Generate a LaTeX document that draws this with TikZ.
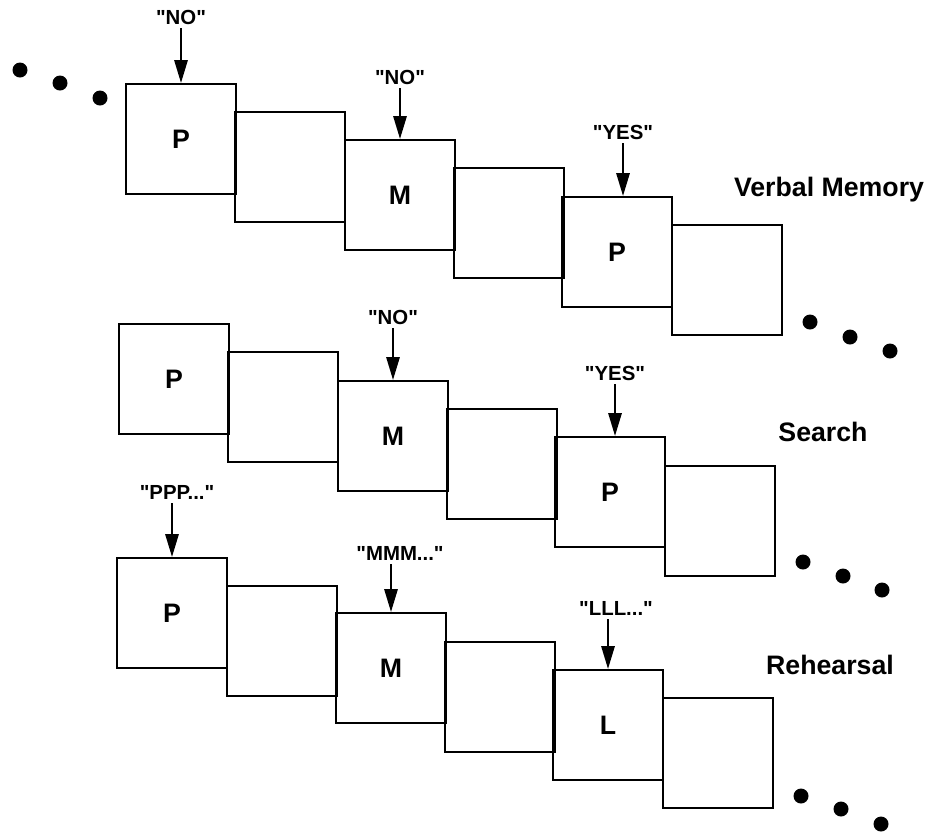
\documentclass[tikz,border=0pt]{standalone}
\usepackage{fontspec}
\setmainfont{Liberation Sans}
\usetikzlibrary{arrows.meta}
\newcommand\said[1]{\textquotedbl#1\textquotedbl}

\begin{document}
\begin{tikzpicture}[x=1cm,y=1cm]
\tikzset{
  cell/.style={rectangle,draw=black,line width=0.5pt,minimum size=1.10cm,inner sep=0pt,font=\bfseries\fontsize{7.6}{9}\selectfont},
  quote/.style={inner sep=1pt,font=\bfseries\fontsize{5.8}{7}\selectfont},
  rowname/.style={inner sep=1pt,font=\bfseries\fontsize{7.6}{9}\selectfont},
  pointer/.style={draw=black,line width=0.8pt,-{Triangle[length=2.3mm,width=1.3mm]}},
  dot/.style={circle,fill=black,inner sep=0pt,minimum size=1.5mm}
}
\useasboundingbox (0,0) rectangle (9.28,-8.33);
% verbal memory row
\node[cell] (vm1) at (1.81,-1.39) {P};
\node[cell] (vm2) at (2.90,-1.67) {};
\node[cell] (vm3) at (4.00,-1.95) {M};
\node[cell] (vm4) at (5.09,-2.23) {};
\node[cell] (vm5) at (6.17,-2.52) {P};
\node[cell] (vm6) at (7.27,-2.80) {};
\node[rowname] (n_vm) at (8.29,-1.90) {Verbal Memory};
\node[quote] (q_vm1) at (1.81,-0.17) {\said{NO}};
\node[quote] (q_vm3) at (4.00,-0.77) {\said{NO}};
\node[quote] (q_vm5) at (6.23,-1.32) {\said{YES}};
\draw[pointer] (q_vm1.south) -- (vm1.north);
\draw[pointer] (q_vm3.south) -- (vm3.north);
\draw[pointer] (q_vm5.south) -- (q_vm5.south |- vm5.north);
\node[dot] (d_a1) at (0.20,-0.70) {};
\node[dot] (d_a2) at (0.60,-0.83) {};
\node[dot] (d_a3) at (1.00,-0.98) {};
\node[dot] (d_b1) at (8.10,-3.22) {};
\node[dot] (d_b2) at (8.50,-3.37) {};
\node[dot] (d_b3) at (8.90,-3.51) {};
% search row
\node[cell] (se1) at (1.74,-3.79) {P};
\node[cell] (se2) at (2.83,-4.07) {};
\node[cell] (se3) at (3.93,-4.36) {M};
\node[cell] (se4) at (5.02,-4.64) {};
\node[cell] (se5) at (6.10,-4.92) {P};
\node[cell] (se6) at (7.20,-5.21) {};
\node[rowname] (n_se) at (8.23,-4.32) {Search};
\node[quote] (q_se3) at (3.93,-3.17) {\said{NO}};
\node[quote] (q_se5) at (6.15,-3.73) {\said{YES}};
\draw[pointer] (q_se3.south) -- (se3.north);
\draw[pointer] (q_se5.south) -- (q_se5.south |- se5.north);
\node[dot] (d_c1) at (8.03,-5.62) {};
\node[dot] (d_c2) at (8.43,-5.76) {};
\node[dot] (d_c3) at (8.82,-5.90) {};
% rehearsal row
\node[cell] (re1) at (1.72,-6.13) {P};
\node[cell] (re2) at (2.82,-6.41) {};
\node[cell] (re3) at (3.91,-6.68) {M};
\node[cell] (re4) at (5.00,-6.97) {};
\node[cell] (re5) at (6.08,-7.25) {L};
\node[cell] (re6) at (7.18,-7.53) {};
\node[rowname] (n_re) at (8.30,-6.65) {Rehearsal};
\node[quote] (q_re1) at (1.77,-4.92) {\said{PPP...}};
\node[quote] (q_re3) at (4.00,-5.53) {\said{MMM...}};
\node[quote] (q_re5) at (6.16,-6.08) {\said{LLL...}};
\draw[pointer] (re1.north |- q_re1.south) -- (re1.north);
\draw[pointer] (re3.north |- q_re3.south) -- (re3.north);
\draw[pointer] (re5.north |- q_re5.south) -- (re5.north);
\node[dot] (d_e1) at (8.01,-7.96) {};
\node[dot] (d_e2) at (8.41,-8.09) {};
\node[dot] (d_e3) at (8.81,-8.24) {};
\end{tikzpicture}
\end{document}
